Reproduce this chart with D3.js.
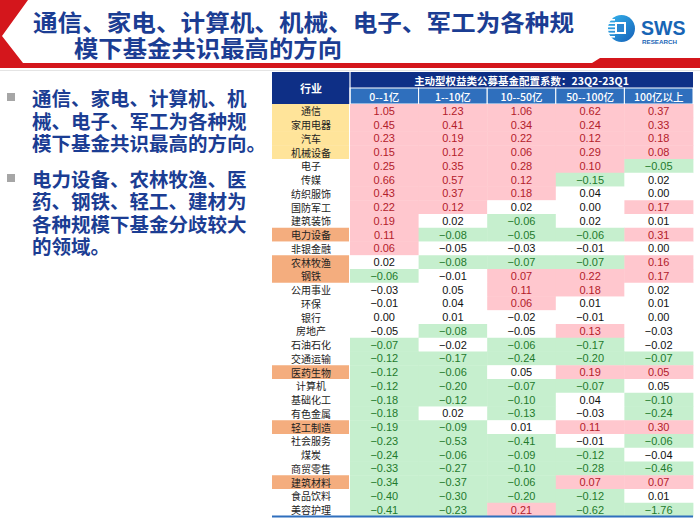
<!DOCTYPE html>
<html>
<head>
<meta charset="utf-8">
<script src="https://cdn.jsdelivr.net/npm/d3@7"></script>
<style>
    body { margin: 0; background: #ffffff; }
    svg { display: block; font-family: "Noto Sans CJK SC", "Noto Sans", sans-serif; }
</style>
</head>
<body>
<script>
// Data
var industries = ["通信", "家用电器", "汽车", "机械设备", "电子", "传媒", "纺织服饰",
    "国防军工", "建筑装饰", "电力设备", "非银金融", "农林牧渔", "钢铁", "公用事业",
    "环保", "银行", "房地产", "石油石化", "交通运输", "医药生物", "计算机", "基础化工",
    "有色金属", "轻工制造", "社会服务", "煤炭", "商贸零售", "建筑材料", "食品饮料",
    "美容护理"];

var sizeBuckets = ["0--1亿", "1--10亿", "10--50亿", "50--100亿", "100亿以上"];

// allocation coefficient change 23Q2-23Q1, one row per industry
var coefficients = [
    [1.05, 1.23, 1.06, 0.62, 0.37],
    [0.45, 0.41, 0.34, 0.24, 0.33],
    [0.23, 0.19, 0.22, 0.12, 0.18],
    [0.15, 0.12, 0.06, 0.29, 0.08],
    [0.25, 0.35, 0.28, 0.10, -0.05],
    [0.66, 0.57, 0.12, -0.15, 0.02],
    [0.43, 0.37, 0.18, 0.04, 0.00],
    [0.22, 0.12, 0.02, 0.00, 0.17],
    [0.19, 0.02, -0.06, 0.02, 0.01],
    [0.11, -0.08, -0.05, -0.06, 0.31],
    [0.06, -0.05, -0.03, -0.01, 0.00],
    [0.02, -0.08, -0.07, -0.07, 0.16],
    [-0.06, -0.01, 0.07, 0.22, 0.17],
    [-0.03, 0.05, 0.11, 0.18, 0.02],
    [-0.01, 0.04, 0.06, 0.01, 0.01],
    [0.00, 0.01, -0.02, -0.01, 0.00],
    [-0.05, -0.08, -0.05, 0.13, -0.03],
    [-0.07, -0.02, -0.06, -0.17, -0.02],
    [-0.12, -0.17, -0.24, -0.20, -0.07],
    [-0.12, -0.06, 0.05, 0.19, 0.05],
    [-0.12, -0.20, -0.07, -0.07, 0.05],
    [-0.18, -0.12, -0.10, 0.04, -0.10],
    [-0.18, 0.02, -0.13, -0.03, -0.24],
    [-0.19, -0.09, 0.01, 0.11, 0.30],
    [-0.23, -0.53, -0.41, -0.01, -0.06],
    [-0.24, -0.06, -0.09, -0.12, -0.04],
    [-0.33, -0.27, -0.10, -0.28, -0.46],
    [-0.34, -0.37, -0.06, 0.07, 0.07],
    [-0.40, -0.30, -0.20, -0.12, 0.01],
    [-0.41, -0.23, 0.21, -0.62, -1.76]
];

// conditional-format flag of each cell: 1 overweight, -1 underweight, 0 none
var signals = [
    [1, 1, 1, 1, 1],
    [1, 1, 1, 1, 1],
    [1, 1, 1, 1, 1],
    [1, 1, 1, 1, 1],
    [1, 1, 1, 1, -1],
    [1, 1, 1, -1, 0],
    [1, 1, 1, 0, 0],
    [1, 1, 0, 0, 1],
    [1, 0, -1, 0, 0],
    [1, -1, -1, -1, 1],
    [1, 0, 0, 0, 0],
    [0, -1, -1, -1, 1],
    [-1, 0, 1, 1, 1],
    [0, 0, 1, 1, 0],
    [0, 0, 1, 0, 0],
    [0, 0, 0, 0, 0],
    [0, -1, 0, 1, 0],
    [-1, 0, -1, -1, 0],
    [-1, -1, -1, -1, -1],
    [-1, -1, 0, 1, 1],
    [-1, -1, -1, -1, 0],
    [-1, -1, -1, 0, -1],
    [-1, 0, -1, 0, -1],
    [-1, -1, 0, 1, 1],
    [-1, -1, -1, 0, -1],
    [-1, -1, -1, -1, 0],
    [-1, -1, -1, -1, -1],
    [-1, -1, -1, 1, 1],
    [-1, -1, -1, -1, 0],
    [-1, -1, 1, -1, -1]
];

var consensusIndustries = ["通信", "家用电器", "汽车", "机械设备"];
var divergentIndustries = ["电力设备", "农林牧渔", "钢铁", "医药生物", "轻工制造", "建筑材料"];

var titleLines = ["通信、家电、计算机、机械、电子、军工为各种规", "模下基金共识最高的方向"];
var headerTitle = "主动型权益类公募基金配置系数：23Q2-23Q1";
var bullets = [
    ["通信、家电、计算机、机", "械、电子、军工为各种规", "模下基金共识最高的方向。"],
    ["电力设备、农林牧渔、医", "药、钢铁、轻工、建材为", "各种规模下基金分歧较大", "的领域。"]
];

var width = 700, height = 521;
var blue = "#1b3d93";
var latin = "'Liberation Sans', Arial, sans-serif";

var svg = d3.select("body").append("svg")
    .attr("width", width)
    .attr("height", height);

// ---- slide header: red frame, title, logo ----
svg.append("polygon")
    .attr("points", "0,0 28,0 2,36 23,63 592,63 600,58 700,58 700,68 0,68")
    .attr("fill", "#d4161c");
svg.append("line")
    .attr("x1", 0).attr("x2", 700).attr("y1", 70.5).attr("y2", 70.5)
    .attr("stroke", "#e4e4e4");

svg.selectAll("text.title")
    .data(titleLines)
    .enter()
    .append("text")
    .attr("class", "title")
    .attr("x", function(d, i) { return i === 0 ? 33 : 74; })
    .attr("y", function(d, i) { return i === 0 ? 21 : 47; })
    .attr("dominant-baseline", "central")
    .attr("textLength", function(d, i) { return i === 0 ? 541 : 268; })
    .attr("lengthAdjust", "spacingAndGlyphs")
    .attr("font-size", "23px")
    .attr("font-weight", "bold")
    .attr("fill", blue)
    .text(function(d) { return d; });

var logo = svg.append("g");
var grad = svg.append("defs").append("linearGradient")
    .attr("id", "logoGrad").attr("x1", 0).attr("x2", 1).attr("y1", 0).attr("y2", 1);
grad.append("stop").attr("offset", "0%").attr("stop-color", "#35b4ec");
grad.append("stop").attr("offset", "100%").attr("stop-color", "#1560b8");
logo.append("circle").attr("cx", 621.5).attr("cy", 28.5).attr("r", 13.5)
    .attr("fill", "url(#logoGrad)");
[0, 1, 2, 3, 4, 5].forEach(function(k) {
    logo.append("rect")
        .attr("x", 607).attr("y", 19 + k * 3.4)
        .attr("width", 8).attr("height", 1.6)
        .attr("fill", "#ffffff");
});
logo.append("rect").attr("x", 615).attr("y", 22).attr("width", 11).attr("height", 12)
    .attr("fill", "#ffffff");
logo.append("rect").attr("x", 617).attr("y", 24).attr("width", 7).attr("height", 8)
    .attr("fill", "#2a86d0");
logo.append("text").attr("x", 641).attr("y", 35)
    .attr("font-family", latin)
    .attr("font-size", "19.5px").attr("font-weight", "bold")
    .attr("fill", "#1765b5").text("SWS");
logo.append("text").attr("x", 642).attr("y", 43.5)
    .attr("font-family", latin)
    .attr("font-size", "6px").attr("font-weight", "bold")
    .attr("textLength", 35).attr("lengthAdjust", "spacingAndGlyphs")
    .attr("fill", "#1765b5").text("RESEARCH");

// ---- bullet points on the left ----
var lineY = [[97, 120, 142.5], [178, 200.5, 223, 245.5]];
bullets.forEach(function(lines, b) {
    svg.append("rect")
        .attr("x", 7).attr("y", lineY[b][0] - 4)
        .attr("width", 8).attr("height", 8)
        .attr("fill", "#a6a6a6");
    svg.selectAll("text.b" + b)
        .data(lines)
        .enter()
        .append("text")
        .attr("class", "b" + b)
        .attr("x", 32)
        .attr("y", function(d, i) { return lineY[b][i]; })
        .attr("dominant-baseline", "central")
        .attr("font-size", "19.5px")
        .attr("font-weight", "bold")
        .attr("fill", blue)
        .text(function(d) { return d; });
});

// ---- table ----
var tableLeft = 272, labelRight = 350, tableRight = 693;
var headTop = 72, headMid = 88, headBottom = 104, tableBottom = 516.5;

var xScale = d3.scaleBand().domain(sizeBuckets).range([labelRight, tableRight]);
var yScale = d3.scaleBand().domain(industries).range([headBottom, tableBottom]);

var fillColor = { "1": "#ffc7ce", "-1": "#c6efce", "0": "#ffffff" };
var textColor = { "1": "#b3202a", "-1": "#1f7a2c", "0": "#111111" };

// header cells
svg.append("rect")
    .attr("x", tableLeft).attr("y", headTop)
    .attr("width", labelRight - tableLeft).attr("height", headBottom - headTop)
    .attr("fill", "#0e2f86");
svg.append("rect")
    .attr("x", labelRight).attr("y", headTop)
    .attr("width", tableRight - labelRight).attr("height", headMid - headTop)
    .attr("fill", "#0e2f86");
svg.selectAll("rect.sub")
    .data(sizeBuckets)
    .enter()
    .append("rect")
    .attr("class", "sub")
    .attr("x", function(d) { return xScale(d); })
    .attr("y", headMid)
    .attr("width", xScale.bandwidth())
    .attr("height", headBottom - headMid)
    .attr("fill", "#2f6fbd")
    .attr("stroke", "#ffffff")
    .attr("stroke-width", 1);
svg.append("line")
    .attr("x1", labelRight).attr("x2", labelRight)
    .attr("y1", headTop).attr("y2", headBottom)
    .attr("stroke", "#ffffff").attr("stroke-width", 1.2);

svg.append("text")
    .attr("x", (tableLeft + labelRight) / 2).attr("y", (headTop + headBottom) / 2)
    .attr("text-anchor", "middle").attr("dominant-baseline", "central")
    .attr("font-size", "11px").attr("font-weight", "bold")
    .attr("fill", "#ffffff").text("行业");
svg.append("text")
    .attr("x", (labelRight + tableRight) / 2).attr("y", (headTop + headMid) / 2)
    .attr("text-anchor", "middle").attr("dominant-baseline", "central")
    .attr("font-size", "10.5px").attr("font-weight", "bold")
    .attr("fill", "#ffffff").text(headerTitle);
svg.selectAll("text.sub")
    .data(sizeBuckets)
    .enter()
    .append("text")
    .attr("class", "sub")
    .attr("x", function(d) { return xScale(d) + xScale.bandwidth() / 2; })
    .attr("y", (headMid + headBottom) / 2)
    .attr("text-anchor", "middle").attr("dominant-baseline", "central")
    .attr("font-size", "10.5px").attr("font-weight", "500")
    .attr("fill", "#ffffff")
    .text(function(d) { return d; });

// industry label column
svg.selectAll("rect.label")
    .data(industries)
    .enter()
    .append("rect")
    .attr("class", "label")
    .attr("x", tableLeft)
    .attr("y", function(d) { return yScale(d); })
    .attr("width", labelRight - tableLeft - 1)
    .attr("height", yScale.bandwidth() + 0.4)
    .attr("fill", function(d) {
        if (consensusIndustries.indexOf(d) >= 0) return "#ffe49a";
        if (divergentIndustries.indexOf(d) >= 0) return "#f4ad7e";
        return "#ffffff";
    });
svg.selectAll("text.label")
    .data(industries)
    .enter()
    .append("text")
    .attr("class", "label")
    .attr("x", (tableLeft + labelRight) / 2)
    .attr("y", function(d) { return yScale(d) + yScale.bandwidth() / 2; })
    .attr("text-anchor", "middle").attr("dominant-baseline", "central")
    .attr("font-size", "10px")
    .attr("fill", "#222222")
    .text(function(d) { return d; });

// value cells
var cells = [];
industries.forEach(function(ind, r) {
    sizeBuckets.forEach(function(col, c) {
        cells.push({ industry: ind, bucket: col, value: coefficients[r][c], flag: signals[r][c] });
    });
});
var fmt = d3.format(".2f");

svg.selectAll("rect.cell")
    .data(cells)
    .enter()
    .append("rect")
    .attr("class", "cell")
    .attr("x", function(d) { return xScale(d.bucket); })
    .attr("y", function(d) { return yScale(d.industry); })
    .attr("width", xScale.bandwidth() + 0.4)
    .attr("height", yScale.bandwidth() + 0.4)
    .attr("fill", function(d) { return fillColor[d.flag]; });
svg.selectAll("text.cell")
    .data(cells)
    .enter()
    .append("text")
    .attr("class", "cell")
    .attr("x", function(d) { return xScale(d.bucket) + xScale.bandwidth() / 2; })
    .attr("y", function(d) { return yScale(d.industry) + yScale.bandwidth() / 2; })
    .attr("text-anchor", "middle").attr("dominant-baseline", "central")
    .attr("font-family", latin)
    .attr("font-size", "11px")
    .attr("fill", function(d) { return textColor[d.flag]; })
    .text(function(d) { return fmt(d.value); });

// bottom rule of the table
svg.append("line")
    .attr("x1", tableLeft).attr("x2", tableRight)
    .attr("y1", tableBottom).attr("y2", tableBottom)
    .attr("stroke", "#2f6fbd").attr("stroke-width", 2);
</script>
</body>
</html>
